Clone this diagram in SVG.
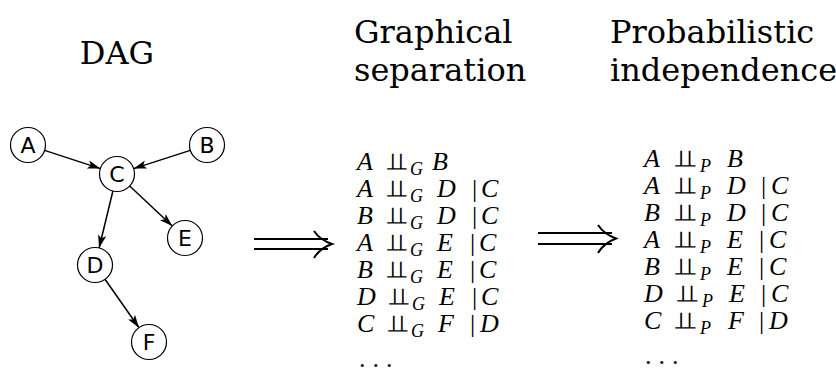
<svg xmlns="http://www.w3.org/2000/svg" width="836" height="374" viewBox="0 0 836 374">
<style>
.title{font-family:"DejaVu Serif","Liberation Serif",serif;font-size:32px;fill:#000}
.node circle{fill:#fff;stroke:#000;stroke-width:1.2}
.node text{font-family:"DejaVu Sans","Liberation Sans",sans-serif;font-size:22px;text-anchor:middle;fill:#000}
.edge{stroke:#000;stroke-width:1.5;fill:none;marker-end:url(#ah)}
.math text{font-family:"Liberation Serif","DejaVu Serif",serif;font-size:26px;fill:#000}
.math .v{font-style:italic}
.math .s{font-style:italic;font-size:18px}
.math .r{font-family:"DejaVu Sans","DejaVu Serif",sans-serif;font-size:24px}
.imp{stroke:#000;stroke-width:2;fill:none}
</style>
<defs>
<marker id="ah" markerUnits="userSpaceOnUse" markerWidth="14" markerHeight="10" refX="13" refY="5" orient="auto">
<path d="M0,0.8 L13,5 L0,9.2 L3,5 z" fill="#000"/>
</marker>
</defs>
<text class="title" x="117" y="64" text-anchor="middle">DAG</text>
<text class="title" x="354" y="43">Graphical</text>
<text class="title" x="354" y="81">separation</text>
<text class="title" x="610" y="43">Probabilistic</text>
<text class="title" x="610" y="81">independence</text>
<g id="connectors">
<line class="edge" x1="44.6" y1="150.4" x2="100.4" y2="168.6"/>
<line class="edge" x1="190.3" y1="150.4" x2="133.7" y2="168.6"/>
<line class="edge" x1="112.9" y1="191" x2="99.1" y2="248"/>
<line class="edge" x1="129.7" y1="186" x2="172.3" y2="226"/>
<line class="edge" x1="105" y1="279.3" x2="139" y2="327.7"/>
</g>
<g id="A" class="node"><circle cx="28" cy="145" r="17.5"/><text x="28" y="153">A</text></g>
<g id="B" class="node"><circle cx="207" cy="145" r="17.5"/><text x="207" y="153">B</text></g>
<g id="C" class="node"><circle cx="117" cy="174" r="17.5"/><text x="117" y="182">C</text></g>
<g id="D" class="node"><circle cx="95" cy="265" r="17.5"/><text x="95" y="273">D</text></g>
<g id="E" class="node"><circle cx="185" cy="238" r="17.5"/><text x="185" y="246">E</text></g>
<g id="F" class="node"><circle cx="149" cy="342" r="17.5"/><text x="149" y="350">F</text></g>
<g id="implies1">
<path class="imp" d="M254,239 H328 M254,249 H328 M314,231 Q320,240 332,244 Q320,248 314,258"/>
</g>
<g id="implies2">
<path class="imp" d="M538,233 H612 M538,244 H612 M598,225 Q604,234 616,238.5 Q604,243 598,253"/>
</g>
<g id="graphical" class="math">
<text y="170"><tspan class="v" x="357">A</tspan><tspan class="r" x="386" textLength="21" lengthAdjust="spacingAndGlyphs">⫫</tspan><tspan class="s" x="410" y="175">G</tspan><tspan class="v" x="432" y="170">B</tspan></text>
<text y="197"><tspan class="v" x="357">A</tspan><tspan class="r" x="386" textLength="21" lengthAdjust="spacingAndGlyphs">⫫</tspan><tspan class="s" x="410" y="202">G</tspan><tspan class="v" x="437" y="197">D</tspan><tspan x="472">|</tspan><tspan class="v" x="481">C</tspan></text>
<text y="224"><tspan class="v" x="357">B</tspan><tspan class="r" x="386" textLength="21" lengthAdjust="spacingAndGlyphs">⫫</tspan><tspan class="s" x="410" y="229">G</tspan><tspan class="v" x="437" y="224">D</tspan><tspan x="472">|</tspan><tspan class="v" x="481">C</tspan></text>
<text y="251"><tspan class="v" x="357">A</tspan><tspan class="r" x="386" textLength="21" lengthAdjust="spacingAndGlyphs">⫫</tspan><tspan class="s" x="410" y="256">G</tspan><tspan class="v" x="437" y="251">E</tspan><tspan x="470">|</tspan><tspan class="v" x="479">C</tspan></text>
<text y="278"><tspan class="v" x="357">B</tspan><tspan class="r" x="386" textLength="21" lengthAdjust="spacingAndGlyphs">⫫</tspan><tspan class="s" x="410" y="283">G</tspan><tspan class="v" x="437" y="278">E</tspan><tspan x="470">|</tspan><tspan class="v" x="479">C</tspan></text>
<text y="305"><tspan class="v" x="357">D</tspan><tspan class="r" x="388" textLength="21" lengthAdjust="spacingAndGlyphs">⫫</tspan><tspan class="s" x="412" y="310">G</tspan><tspan class="v" x="439" y="305">E</tspan><tspan x="472">|</tspan><tspan class="v" x="481">C</tspan></text>
<text y="332"><tspan class="v" x="357">C</tspan><tspan class="r" x="387" textLength="21" lengthAdjust="spacingAndGlyphs">⫫</tspan><tspan class="s" x="411" y="337">G</tspan><tspan class="v" x="438" y="332">F</tspan><tspan x="470">|</tspan><tspan class="v" x="480">D</tspan></text>
<text x="359" y="367" letter-spacing="7">...</text>
</g>
<g id="probabilistic" class="math">
<text y="167"><tspan class="v" x="644">A</tspan><tspan class="r" x="674" textLength="22" lengthAdjust="spacingAndGlyphs">⫫</tspan><tspan class="s" x="700" y="172">P</tspan><tspan class="v" x="727" y="167">B</tspan></text>
<text y="194"><tspan class="v" x="644">A</tspan><tspan class="r" x="674" textLength="22" lengthAdjust="spacingAndGlyphs">⫫</tspan><tspan class="s" x="700" y="199">P</tspan><tspan class="v" x="727" y="194">D</tspan><tspan x="761">|</tspan><tspan class="v" x="771">C</tspan></text>
<text y="221"><tspan class="v" x="644">B</tspan><tspan class="r" x="674" textLength="22" lengthAdjust="spacingAndGlyphs">⫫</tspan><tspan class="s" x="700" y="226">P</tspan><tspan class="v" x="727" y="221">D</tspan><tspan x="761">|</tspan><tspan class="v" x="771">C</tspan></text>
<text y="248"><tspan class="v" x="644">A</tspan><tspan class="r" x="674" textLength="22" lengthAdjust="spacingAndGlyphs">⫫</tspan><tspan class="s" x="700" y="253">P</tspan><tspan class="v" x="727" y="248">E</tspan><tspan x="759">|</tspan><tspan class="v" x="769">C</tspan></text>
<text y="275"><tspan class="v" x="644">B</tspan><tspan class="r" x="674" textLength="22" lengthAdjust="spacingAndGlyphs">⫫</tspan><tspan class="s" x="700" y="280">P</tspan><tspan class="v" x="727" y="275">E</tspan><tspan x="759">|</tspan><tspan class="v" x="769">C</tspan></text>
<text y="302"><tspan class="v" x="644">D</tspan><tspan class="r" x="676" textLength="22" lengthAdjust="spacingAndGlyphs">⫫</tspan><tspan class="s" x="702" y="307">P</tspan><tspan class="v" x="729" y="302">E</tspan><tspan x="761">|</tspan><tspan class="v" x="771">C</tspan></text>
<text y="329"><tspan class="v" x="644">C</tspan><tspan class="r" x="674" textLength="22" lengthAdjust="spacingAndGlyphs">⫫</tspan><tspan class="s" x="700" y="334">P</tspan><tspan class="v" x="728" y="329">F</tspan><tspan x="759">|</tspan><tspan class="v" x="769">D</tspan></text>
<text x="645" y="364" letter-spacing="7">...</text>
</g>
</svg>
